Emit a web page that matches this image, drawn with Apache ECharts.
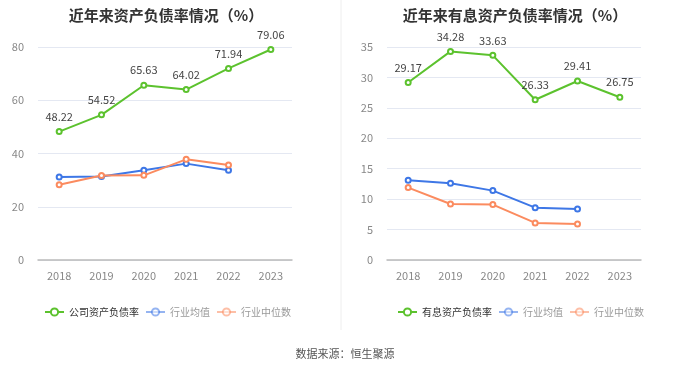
<!DOCTYPE html>
<html><head><meta charset="utf-8">
<script src="https://cdn.jsdelivr.net/npm/echarts@6/dist/echarts.min.js"></script>
<style>html,body{margin:0;padding:0;background:#fff}#c{width:680px;height:367px}</style>
</head><body><div id="c"></div>
<script>
var years = ['2018','2019','2020','2021','2022','2023'];
var companyDebt = [48.22, 54.52, 65.63, 64.02, 71.94, 79.06];
var industryAvgDebt = [31.2, 31.4, 33.7, 36.2, 33.7, null];
var industryMedDebt = [28.3, 31.7, 31.8, 37.8, 35.7, null];
var interestDebt = [29.17, 34.28, 33.63, 26.33, 29.41, 26.75];
var industryAvgInterest = [13.1, 12.6, 11.4, 8.6, 8.4, null];
var industryMedInterest = [11.9, 9.2, 9.1, 6.1, 5.9, null];
var leftTicks = [0, 20, 40, 60, 80];
var rightTicks = [0, 5, 10, 15, 20, 25, 30, 35];

var GREEN = '#5cc22e', BLUE = '#3e77e6', ORANGE = '#fb8b5f';
var font = '"Noto Sans CJK SC", "Noto Sans", sans-serif';

function line(name, data, color, xi, label) {
  return {
    name: name, type: 'line', xAxisIndex: xi, yAxisIndex: xi, data: data,
    symbol: 'emptyCircle', symbolSize: 5, showSymbol: true,
    lineStyle: {color: color, width: 2}, itemStyle: {color: color, borderWidth: 1.5},
    label: label ? {show: true, position: 'top', color: '#444', fontSize: 11, fontFamily: font, distance: 6} : {show: false},
    emphasis: {disabled: true}, connectNulls: false
  };
}
function xAxis(gi) {
  return {type: 'category', gridIndex: gi, data: years, boundaryGap: true,
    axisLine: {lineStyle: {color: '#bbb', width: 1.5}}, axisTick: {show: false},
    axisLabel: {color: '#888', fontSize: 11, margin: 10, fontFamily: font}};
}
function yAxis(gi, max, interval) {
  return {type: 'value', gridIndex: gi, min: 0, max: max, interval: interval,
    axisLine: {show: false}, axisTick: {show: false},
    axisLabel: {color: '#888', fontSize: 11, margin: 14, fontFamily: font},
    splitLine: {lineStyle: {color: '#e4e8f2'}}};
}
function legendData(first) {
  return [
    {name: first, textStyle: {color: '#333'}},
    {name: '行业均值', itemStyle: {opacity: 0.55}, lineStyle: {opacity: 0.55}, textStyle: {color: '#999'}},
    {name: '行业中位数', itemStyle: {opacity: 0.55}, lineStyle: {opacity: 0.55}, textStyle: {color: '#999'}}
  ];
}
function legend(left, first) {
  return {left: left, top: 307, padding: 0, width: 320, itemWidth: 19, itemHeight: 9, itemGap: 6,
    textStyle: {fontSize: 10, fontFamily: font}, data: legendData(first)};
}
var chart = echarts.init(document.getElementById('c'));
chart.setOption({
  animation: false,
  title: [
    {text: '近年来资产负债率情况（%）', left: 161, top: 3, textAlign: 'center',
      textStyle: {fontSize: 15, fontWeight: 'bold', color: '#333', fontFamily: font}},
    {text: '近年来有息资产负债率情况（%）', left: 510, top: 3, textAlign: 'center',
      textStyle: {fontSize: 15, fontWeight: 'bold', color: '#333', fontFamily: font}},
    {text: '数据来源：恒生聚源', left: 340, top: 343, textAlign: 'center',
      textStyle: {fontSize: 11, fontWeight: 'normal', color: '#555', fontFamily: font}}
  ],
  graphic: [{type: 'line', shape: {x1: 341, y1: 0, x2: 341, y2: 330}, style: {stroke: '#eee', lineWidth: 1}}],
  legend: [legend(44, '公司资产负债率'), legend(397, '有息资产负债率')],
  grid: [
    {left: 38, top: 47, width: 254, height: 213},
    {left: 387, top: 47, width: 254, height: 213}
  ],
  xAxis: [xAxis(0), xAxis(1)],
  yAxis: [yAxis(0, leftTicks[leftTicks.length-1], leftTicks[1]-leftTicks[0]),
          yAxis(1, rightTicks[rightTicks.length-1], rightTicks[1]-rightTicks[0])],
  series: [
    line('公司资产负债率', companyDebt, GREEN, 0, true),
    line('行业均值', industryAvgDebt, BLUE, 0, false),
    line('行业中位数', industryMedDebt, ORANGE, 0, false),
    line('有息资产负债率', interestDebt, GREEN, 1, true),
    line('行业均值', industryAvgInterest, BLUE, 1, false),
    line('行业中位数', industryMedInterest, ORANGE, 1, false)
  ]
});
</script></body></html>
